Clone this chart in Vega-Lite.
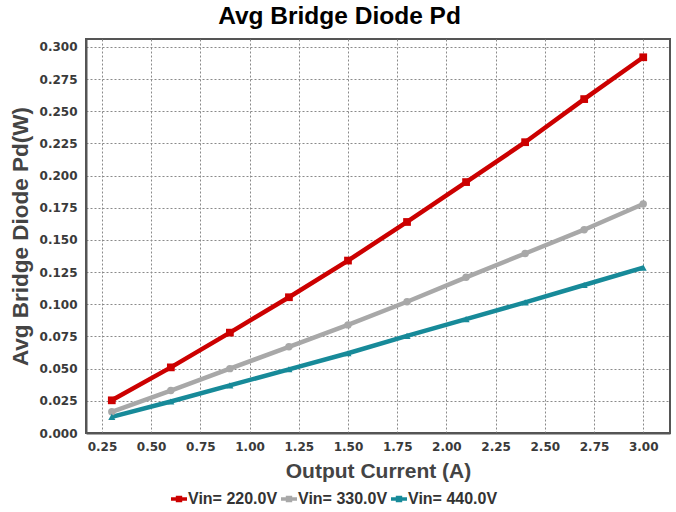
{
  "$schema": "https://vega.github.io/schema/vega-lite/v6.json",
  "width": 584,
  "height": 394,
  "autosize": {"type": "none"},
  "padding": {"left": 86, "top": 39, "right": 6, "bottom": 79},
  "background": "white",
  "title": {
    "text": "Avg Bridge Diode Pd",
    "font": "Liberation Sans",
    "fontSize": 24.5,
    "fontWeight": "bold",
    "color": "#000000",
    "anchor": "middle",
    "frame": "bounds",
    "offset": 10
  },
  "data": {
    "values": [
      {"I": 0.3, "P": 0.0254, "s": "Vin= 220.0V"},
      {"I": 0.6, "P": 0.051, "s": "Vin= 220.0V"},
      {"I": 0.9, "P": 0.078, "s": "Vin= 220.0V"},
      {"I": 1.2, "P": 0.1055, "s": "Vin= 220.0V"},
      {"I": 1.5, "P": 0.134, "s": "Vin= 220.0V"},
      {"I": 1.8, "P": 0.164, "s": "Vin= 220.0V"},
      {"I": 2.1, "P": 0.195, "s": "Vin= 220.0V"},
      {"I": 2.4, "P": 0.226, "s": "Vin= 220.0V"},
      {"I": 2.7, "P": 0.2595, "s": "Vin= 220.0V"},
      {"I": 3.0, "P": 0.292, "s": "Vin= 220.0V"},
      {"I": 0.3, "P": 0.0165, "s": "Vin= 330.0V"},
      {"I": 0.6, "P": 0.033, "s": "Vin= 330.0V"},
      {"I": 0.9, "P": 0.050, "s": "Vin= 330.0V"},
      {"I": 1.2, "P": 0.067, "s": "Vin= 330.0V"},
      {"I": 1.5, "P": 0.084, "s": "Vin= 330.0V"},
      {"I": 1.8, "P": 0.102, "s": "Vin= 330.0V"},
      {"I": 2.1, "P": 0.121, "s": "Vin= 330.0V"},
      {"I": 2.4, "P": 0.1395, "s": "Vin= 330.0V"},
      {"I": 2.7, "P": 0.158, "s": "Vin= 330.0V"},
      {"I": 3.0, "P": 0.178, "s": "Vin= 330.0V"},
      {"I": 0.3, "P": 0.0125, "s": "Vin= 440.0V"},
      {"I": 0.6, "P": 0.0245, "s": "Vin= 440.0V"},
      {"I": 0.9, "P": 0.037, "s": "Vin= 440.0V"},
      {"I": 1.2, "P": 0.0495, "s": "Vin= 440.0V"},
      {"I": 1.5, "P": 0.062, "s": "Vin= 440.0V"},
      {"I": 1.8, "P": 0.0755, "s": "Vin= 440.0V"},
      {"I": 2.1, "P": 0.0885, "s": "Vin= 440.0V"},
      {"I": 2.4, "P": 0.1015, "s": "Vin= 440.0V"},
      {"I": 2.7, "P": 0.115, "s": "Vin= 440.0V"},
      {"I": 3.0, "P": 0.1285, "s": "Vin= 440.0V"}
    ]
  },
  "encoding": {
    "x": {
      "field": "I", "type": "quantitative",
      "scale": {"domain": [0.169, 3.136], "nice": false, "zero": false},
      "axis": {
        "title": "Output Current (A)",
        "values": [0.25, 0.5, 0.75, 1.0, 1.25, 1.5, 1.75, 2.0, 2.25, 2.5, 2.75, 3.0],
        "format": ".2f"
      }
    },
    "y": {
      "field": "P", "type": "quantitative",
      "scale": {"domain": [0, 0.3062], "nice": false},
      "axis": {
        "title": "Avg Bridge Diode Pd(W)",
        "values": [0, 0.025, 0.05, 0.075, 0.1, 0.125, 0.15, 0.175, 0.2, 0.225, 0.25, 0.275, 0.3],
        "format": ".3f"
      }
    },
    "color": {
      "field": "s", "type": "nominal",
      "scale": {"domain": ["Vin= 220.0V", "Vin= 330.0V", "Vin= 440.0V"], "range": ["#CC0000", "#A8A8A8", "#178A99"]},
      "legend": {
        "title": null,
        "orient": "none",
        "direction": "horizontal",
        "legendX": 85,
        "legendY": 452,
        "symbolType": "M-1,-0.22H1V0.22H-1Z M-0.4,-0.4H0.4V0.4H-0.4Z",
        "symbolSize": 256,
        "labelFont": "Liberation Sans",
        "labelFontSize": 16,
        "labelFontWeight": "bold",
        "labelColor": "#333333",
        "labelOffset": 1,
        "columnPadding": 3,
        "encode": {"symbols": {"update": {
          "fill": {"scale": "color", "field": "value"},
          "strokeWidth": {"value": 0}
        }}}
      }
    }
  },
  "layer": [
    {"mark": {"type": "line", "strokeWidth": 4.5}},
    {
      "transform": [{"filter": "datum.s == 'Vin= 220.0V'"}],
      "mark": {"type": "point", "shape": "square", "filled": true, "opacity": 1, "size": 60}
    },
    {
      "transform": [{"filter": "datum.s == 'Vin= 330.0V'"}],
      "mark": {"type": "point", "shape": "circle", "filled": true, "opacity": 1, "size": 55}
    },
    {
      "transform": [{"filter": "datum.s == 'Vin= 440.0V'"}],
      "mark": {"type": "point", "shape": "triangle-up", "filled": true, "opacity": 1, "size": 50}
    }
  ],
  "config": {
    "view": {"stroke": "#555555", "strokeWidth": 2},
    "axis": {
      "labelFont": "DejaVu Sans",
      "labelFontSize": 12,
      "labelFontWeight": "bold",
      "labelColor": "#3a3a3a",
      "titleFont": "Liberation Sans",
      "titleFontSize": 21,
      "titleFontWeight": "bold",
      "titleColor": "#444444",
      "grid": true,
      "gridColor": "#8a8a8a",
      "gridDash": [2, 2],
      "gridWidth": 1,
      "domainColor": "#555555",
      "domainWidth": 2,
      "ticks": false
    },
    "axisX": {"labelPadding": 8, "titlePadding": 8},
    "axisY": {"labelPadding": 9, "titlePadding": 7, "titleFontSize": 22.5}
  }
}
